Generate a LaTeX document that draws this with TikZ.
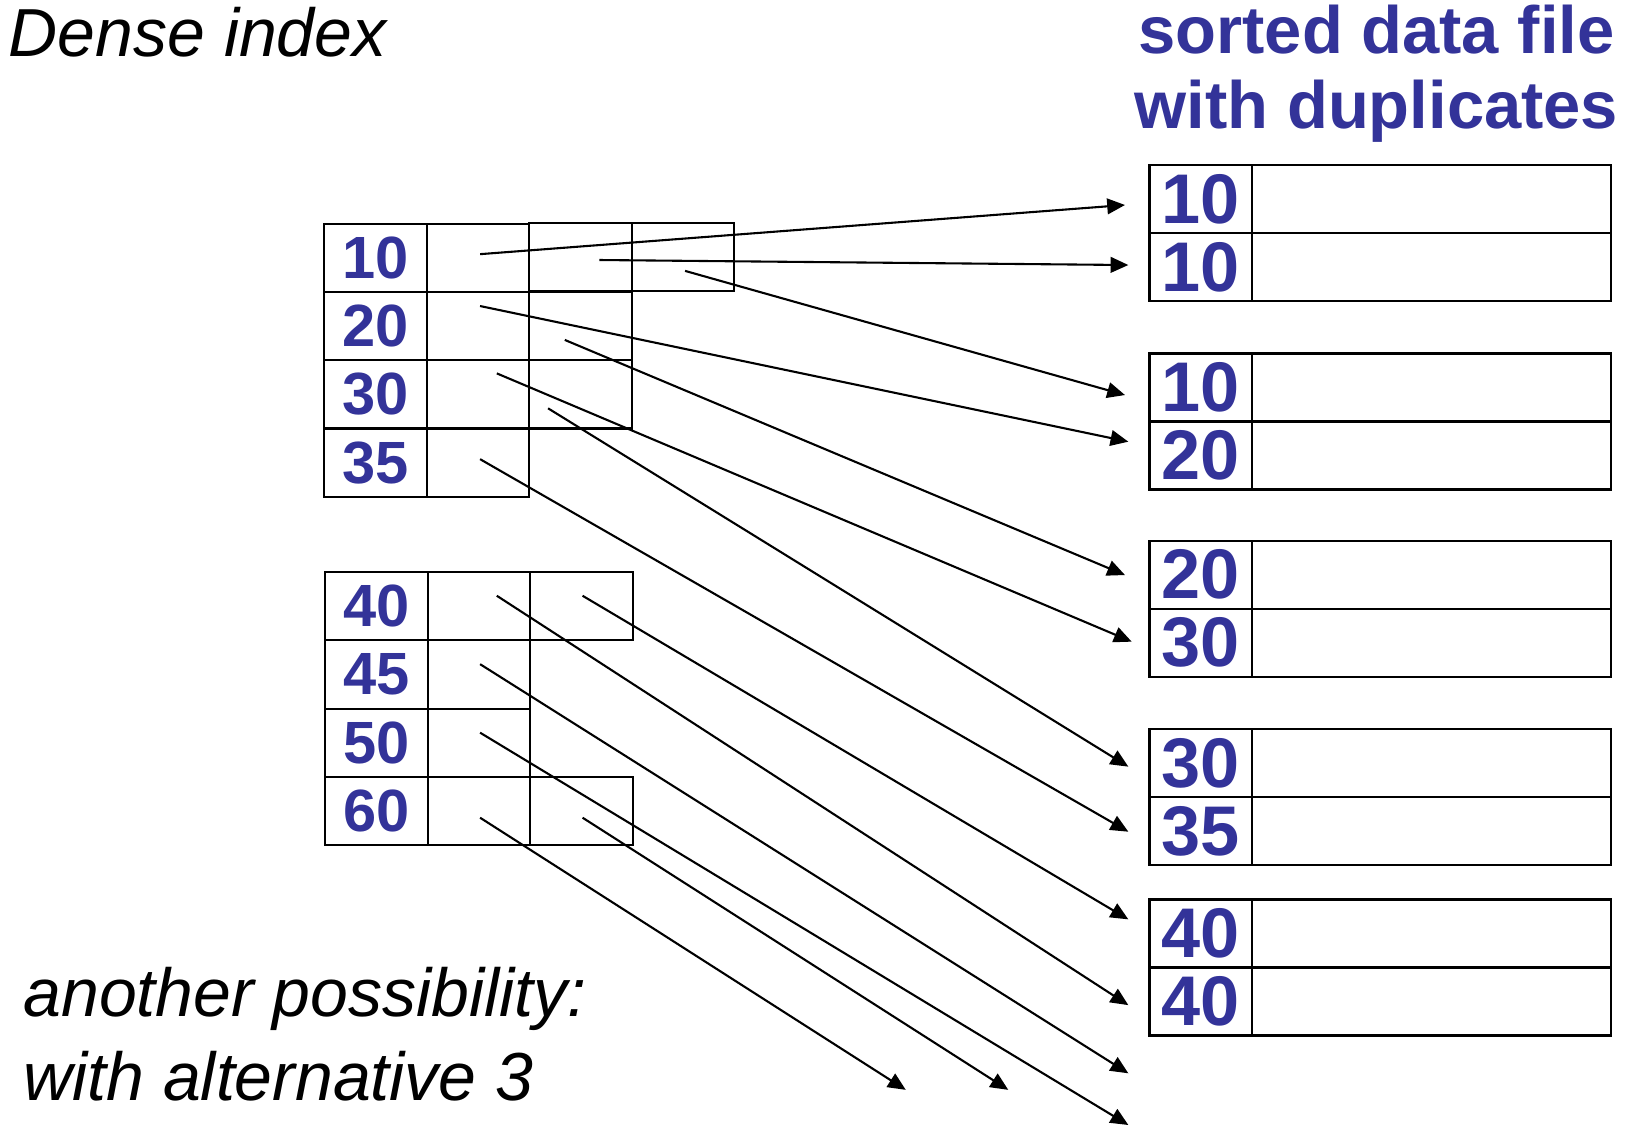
\documentclass[tikz,border=0pt]{standalone}
\usepackage{fontspec}
\setmainfont{Liberation Sans}
\usetikzlibrary{arrows.meta}
\definecolor{keyblue}{RGB}{51,51,153}
\begin{document}
\begin{tikzpicture}[x=0.5pt,y=-0.5pt,
  box/.style={draw=black,line width=1pt,inner sep=0pt,outer sep=0pt,minimum width=49pt,minimum height=32.625pt},
  ikey/.style={box,text=keyblue,font=\fontsize{28.5}{28.5}\selectfont\bfseries},
  dkey/.style={box,minimum height=32.5pt,text=keyblue,font=\fontsize{33.6}{33.6}\selectfont\bfseries},
  drec/.style={box,minimum width=171.5pt,minimum height=32.5pt},
  ptr/.style={line width=1pt,-{Triangle[length=8.5pt,width=7.5pt]}},
  ittext/.style={anchor=base west,inner sep=0pt,font=\fontsize{32.5}{39}\selectfont\itshape},
  titletext/.style={anchor=base,inner sep=0pt,text=keyblue,font=\fontsize{32}{39}\selectfont\bfseries}]
\useasboundingbox (0,0) rectangle (1568,1080);

% texts
\node[ittext] (dense) at (8,54) {Dense index};
\node[ittext] (another) at (22,972) {another possibility:};
\node[ittext] (alt3) at (22,1052) {with alternative 3};
\node[titletext] (title1) at (1316,51) {sorted data file};
\node[titletext] (title2) at (1316,123) {with duplicates};

% index block 1
\node[ikey] (k10) at (359,246.6) {10};
\node[box]  (p10) at (457,246.6) {};
\node[ikey] (k20) at (359,311.9) {20};
\node[box]  (p20) at (457,311.9) {};
\node[ikey] (k30) at (359,377.1) {30};
\node[box]  (p30) at (457,377.1) {};
\node[ikey] (k35) at (359,442.4) {35};
\node[box]  (p35) at (457,442.4) {};
% overflow buckets of block 1
\node[box] (o1a) at (555,246) {};
\node[box] (o1b) at (653,246) {};
\node[box] (o2)  at (555,311.9) {};
\node[box] (o3)  at (555,377.1) {};

% index block 2
\node[ikey] (k40) at (360,579.6) {40};
\node[box]  (p40) at (458,579.6) {};
\node[ikey] (k45) at (360,644.9) {45};
\node[box]  (p45) at (458,644.9) {};
\node[ikey] (k50) at (360,710.1) {50};
\node[box]  (p50) at (458,710.1) {};
\node[ikey] (k60) at (360,775.4) {60};
\node[box]  (p60) at (458,775.4) {};
\node[box] (o40) at (556,579.6) {};
\node[box] (o60) at (556,775.4) {};

% data file blocks
\node[dkey] (d1a) at (1148,190.5) {10};  \node[drec] (r1a) at (1368.5,190.5) {};
\node[dkey] (d1b) at (1148,255.5) {10};  \node[drec] (r1b) at (1368.5,255.5) {};
\node[dkey] (d2a) at (1148,370.5) {10};  \node[drec] (r2a) at (1368.5,370.5) {};
\node[dkey] (d2b) at (1148,435.5) {20};  \node[drec] (r2b) at (1368.5,435.5) {};
\node[dkey] (d3a) at (1148,549.5) {20};  \node[drec] (r3a) at (1368.5,549.5) {};
\node[dkey] (d3b) at (1148,614.5) {30};  \node[drec] (r3b) at (1368.5,614.5) {};
\node[dkey] (d4a) at (1148,729.5) {30};  \node[drec] (r4a) at (1368.5,729.5) {};
\node[dkey] (d4b) at (1148,794.5) {35};  \node[drec] (r4b) at (1368.5,794.5) {};
\node[dkey] (d5a) at (1148,892.5) {40};  \node[drec] (r5a) at (1368.5,892.5) {};
\node[dkey] (d5b) at (1148,957.5) {40};  \node[drec] (r5b) at (1368.5,957.5) {};

% pointer start points
\coordinate (s10)  at (459,243);
\coordinate (so1a) at (573,248.6);
\coordinate (so1b) at (655,259);
\coordinate (s20)  at (459,292.6);
\coordinate (so2)  at (540,325);
\coordinate (s30)  at (475,357);
\coordinate (so3)  at (524,390.4);
\coordinate (s35)  at (459,439);
\coordinate (s40)  at (475,569.6);
\coordinate (so40) at (557,569.6);
\coordinate (s45)  at (459,635);
\coordinate (s50)  at (459,700.5);
\coordinate (s60)  at (459,781.8);
\coordinate (so60) at (557,781.8);

% arrow tips
\coordinate (t1)  at (1075.6,196);
\coordinate (t2)  at (1078.8,253.4);
\coordinate (t3)  at (1075.6,377.7);
\coordinate (t4)  at (1078.8,422.3);
\coordinate (t5)  at (1075.6,549.8);
\coordinate (t6)  at (1082,613.5);
\coordinate (t7)  at (1078.8,733);
\coordinate (t8)  at (1078.8,795.2);
\coordinate (t9)  at (1078.8,879);
\coordinate (t10) at (1078.8,961);
\coordinate (t11) at (1078.8,1026.2);
\coordinate (t12) at (1078.8,1075.6);
\coordinate (t13) at (866,1042);
\coordinate (t14) at (964,1042);

\draw[ptr] (s10)  -- (t1);
\draw[ptr] (so1a) -- (t2);
\draw[ptr] (so1b) -- (t3);
\draw[ptr] (s20)  -- (t4);
\draw[ptr] (so2)  -- (t5);
\draw[ptr] (s30)  -- (t6);
\draw[ptr] (so3)  -- (t7);
\draw[ptr] (s35)  -- (t8);
\draw[ptr] (so40) -- (t9);
\draw[ptr] (s40)  -- (t10);
\draw[ptr] (s45)  -- (t11);
\draw[ptr] (s50)  -- (t12);
\draw[ptr] (s60)  -- (t13);
\draw[ptr] (so60) -- (t14);
\end{tikzpicture}
\end{document}
